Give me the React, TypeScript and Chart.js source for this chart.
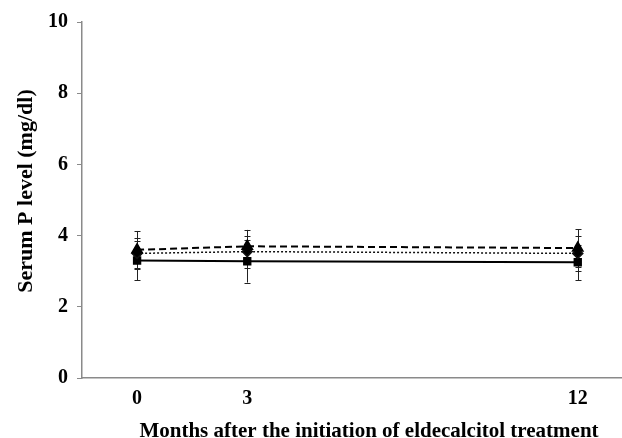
import React, { useEffect, useRef } from "react";
import { Chart, registerables } from "chart.js";

Chart.register(...registerables);

// Months after starting treatment
const months = [0, 3, 12];
const xTicks = [0, 3, 12];

// Serum P (mg/dl), mean and SD for each group
const dashedMean = [3.6, 3.7, 3.65];
const dashedSd = [0.53, 0.46, 0.53];
const dottedMean = [3.5, 3.55, 3.5];
const dottedSd = [0.42, 0.45, 0.5];
const solidMean = [3.3, 3.28, 3.25];
const solidSd = [0.55, 0.6, 0.5];

const xTitle = "Months after the initiation of eldecalcitol treatment";
const yTitle = "Serum P level (mg/dl)";

const FONT = "'Liberation Serif', 'Times New Roman', serif";

const errorBars = {
  id: "errorBars",
  beforeDatasetsDraw(chart: any) {
    const { ctx, scales } = chart;
    const x = scales.x;
    const y = scales.y;
    ctx.save();
    ctx.strokeStyle = "#222";
    ctx.lineWidth = 1;
    ctx.setLineDash([]);
    chart.data.datasets.forEach((ds: any) => {
      const sds: number[] = ds.sd || [];
      ds.data.forEach((p: any, i: number) => {
        const sd = sds[i];
        if (sd == null) return;
        const px = Math.round(x.getPixelForValue(p.x)) + 0.5;
        const top = y.getPixelForValue(p.y + sd);
        const bot = y.getPixelForValue(p.y - sd);
        ctx.beginPath();
        ctx.moveTo(px, top);
        ctx.lineTo(px, bot);
        ctx.moveTo(px - 3, Math.round(top) + 0.5);
        ctx.lineTo(px + 3, Math.round(top) + 0.5);
        ctx.moveTo(px - 3, Math.round(bot) + 0.5);
        ctx.lineTo(px + 3, Math.round(bot) + 0.5);
        ctx.stroke();
      });
    });
    ctx.restore();
  },
};

// Axis titles, placed against the plot area
const axisTitles = {
  id: "axisTitles",
  afterDraw(chart: any) {
    const { ctx, chartArea } = chart;
    ctx.save();
    ctx.fillStyle = "#000";
    ctx.textAlign = "center";
    ctx.textBaseline = "alphabetic";
    ctx.font = `bold 21px ${FONT}`;
    ctx.fillText(xTitle, chartArea.left + 287, chartArea.bottom + 59);
    ctx.translate(chartArea.left - 50, chartArea.top + 169);
    ctx.rotate(-Math.PI / 2);
    ctx.font = `bold 22px ${FONT}`;
    ctx.fillText(yTitle, 0, 0);
    ctx.restore();
  },
};

function pts(vals: number[]) {
  return months.map((m, i) => ({ x: m, y: vals[i] }));
}

export default function App() {
  const ref = useRef<HTMLCanvasElement>(null);

  useEffect(() => {
    if (!ref.current) return;
    const chart = new Chart(ref.current, {
      type: "line",
      data: {
        datasets: [
          {
            label: "dashed",
            data: pts(dashedMean),
            sd: dashedSd,
            borderColor: "#000",
            backgroundColor: "#000",
            borderWidth: 2,
            borderDash: [7, 4],
            pointStyle: "triangle",
            pointRadius: 5.5,
          } as any,
          {
            label: "dotted",
            data: pts(dottedMean),
            sd: dottedSd,
            borderColor: "#111",
            backgroundColor: "#000",
            borderWidth: 1.5,
            borderDash: [2, 2],
            pointStyle: "rectRot",
            pointRadius: 5,
          } as any,
          {
            label: "solid",
            data: pts(solidMean),
            sd: solidSd,
            borderColor: "#000",
            backgroundColor: "#000",
            borderWidth: 2,
            pointStyle: "rect",
            pointRadius: 4.5,
          } as any,
        ],
      },
      options: {
        animation: false,
        responsive: false,
        maintainAspectRatio: false,
        layout: { padding: { top: 22, right: 0, left: 0, bottom: 0 } },
        plugins: {
          legend: { display: false },
          tooltip: { enabled: false },
        },
        scales: {
          x: {
            type: "linear",
            min: -1.5,
            max: 13.3,
            afterBuildTicks: (scale: any) => {
              scale.ticks = xTicks.map((v) => ({ value: v }));
            },
            afterFit: (scale: any) => {
              scale.height = 60;
            },
            grid: { display: false, drawTicks: false },
            border: { display: true, color: "#8a8a8a", width: 1.5 },
            ticks: {
              color: "#000",
              padding: 9,
              maxRotation: 0,
              font: { family: FONT, size: 20, weight: "bold" },
            },
          },
          y: {
            min: 0,
            max: 10,
            afterFit: (scale: any) => {
              scale.width = 82;
            },
            grid: {
              drawOnChartArea: false,
              drawTicks: true,
              tickLength: 5,
              color: "#8a8a8a",
            },
            border: { display: true, color: "#8a8a8a", width: 1.5 },
            ticks: {
              stepSize: 2,
              color: "#000",
              padding: 9,
              font: { family: FONT, size: 20, weight: "bold" },
            },
          },
        },
      } as any,
      plugins: [errorBars, axisTitles],
    });
    return () => chart.destroy();
  }, []);

  return (
    <div
      style={{
        position: "fixed",
        left: 0,
        top: 0,
        width: 622,
        height: 438,
        overflow: "hidden",
        background: "#fff",
      }}
    >
      <canvas ref={ref} width={633} height={438} style={{ display: "block" }} />
    </div>
  );
}
